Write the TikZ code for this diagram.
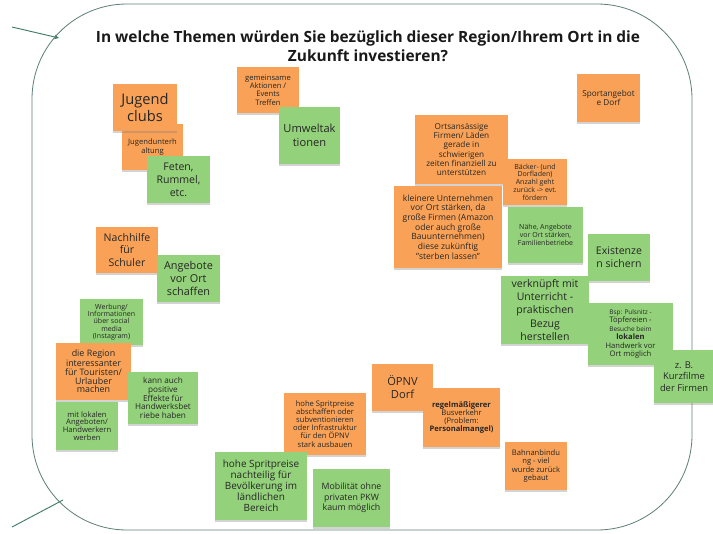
\documentclass[tikz,border=0pt]{standalone}
\usepackage{fontspec}
\setmainfont{Open Sans}
\usepackage{tikz}
\usetikzlibrary{shadows}

\definecolor{stickyorange}{HTML}{F9A257}
\definecolor{stickygreen}{HTML}{93D27A}
\definecolor{framegray}{HTML}{5F807A}
\definecolor{arrowteal}{HTML}{3F7C68}

\begin{document}
\begin{tikzpicture}[
    x=0.03cm, y=-0.03cm,
    note/.style={inner sep=1pt, align=center, text=black!85, drop shadow={shadow xshift=0pt, shadow yshift=-2pt, opacity=0.35}},
    orangenote/.style={note, fill=stickyorange},
    greennote/.style={note, fill=stickygreen},
    arrow/.style={->, >=stealth, line width=0.8pt, arrowteal},
]
\useasboundingbox (0,0) rectangle (713,533);

% Frame and title
\draw[framegray, line width=0.7pt, rounded corners=2.85cm] (32,4) rectangle (692,530);
\node[font=\bfseries\fontsize{13.2}{16.5}\selectfont, align=center, text=black!90] (title) at (368,46.5)
    {In welche Themen würden Sie bezüglich dieser Region/Ihrem Ort in die\\Zukunft investieren?};

% Outside connectors
\coordinate (arrowstart) at (12,27);
\coordinate (arrowend) at (59,38);
\coordinate (linestart) at (12,527);
\coordinate (lineend) at (63,500);
\draw[arrow] (arrowstart) -- (arrowend);
\draw[arrowteal, line width=0.8pt] (linestart) -- (lineend);

% Youth
\node[orangenote, minimum width=1.83cm, minimum height=1.38cm, font=\fontsize{6.5}{7}\selectfont] (unterhaltung) at (152.5,147) {Jugendunterh\\altung};
\node[orangenote, minimum width=1.92cm, minimum height=1.41cm, font=\fontsize{12.5}{14}\selectfont] (jugend) at (145,107.5) {Jugend\\clubs};
\node[greennote, minimum width=1.89cm, minimum height=1.41cm, font=\fontsize{9}{11}\selectfont] (feten) at (178.5,179.5) {Feten,\\Rummel,\\etc.};

% Events and environment
\node[orangenote, minimum width=1.86cm, minimum height=1.38cm, font=\fontsize{6.5}{7.2}\selectfont] (aktionen) at (268,90) {gemeinsame\\Aktionen /\\Events\\Treffen};
\node[greennote, minimum width=1.83cm, minimum height=1.71cm, font=\fontsize{9.5}{12}\selectfont] (umwelt) at (309.5,135.5) {Umweltak\\tionen};
\node[orangenote, minimum width=1.89cm, minimum height=1.44cm, font=\fontsize{7}{8}\selectfont] (sport) at (608.5,98) {Sportangebot\\e Dorf};

% Local businesses
\node[orangenote, minimum width=2.79cm, minimum height=2.07cm, font=\fontsize{7}{8}\selectfont] (ortsansaessig) at (461.5,149.5) {Ortsansässige\\Firmen/ Läden\\gerade in\\schwierigen\\zeiten finanziell zu\\unterstützen};
\node[orangenote, minimum width=1.92cm, minimum height=1.38cm, font=\fontsize{6}{6.6}\selectfont] (baecker) at (535,182) {Bäcker- (und\\Dorfladen)\\Anzahl geht\\zurück -> evt.\\fördern};
\node[orangenote, minimum width=3.24cm, minimum height=2.46cm, font=\fontsize{7.3}{8.2}\selectfont] (kleinere) at (448,227) {kleinere Unternehmen\\vor Ort stärken, da\\große Firmen (Amazon\\oder auch große\\Bauunternehmen)\\diese zukünftig\\"sterben lassen"};
\node[greennote, minimum width=2.25cm, minimum height=1.68cm, font=\fontsize{6}{6.8}\selectfont] (naehe) at (545.5,235) {Nähe, Angebote\\vor Ort stärken,\\Familienbetriebe};
\node[greennote, minimum width=1.86cm, minimum height=1.41cm, font=\fontsize{9}{11}\selectfont] (existenz) at (619,257.5) {Existenze\\n sichern};
\node[greennote, minimum width=2.64cm, minimum height=2.04cm, font=\fontsize{9}{11.3}\selectfont] (unterricht) at (545,310) {verknüpft mit\\Unterricht -\\praktischen\\Bezug\\herstellen};
\node[greennote, minimum width=2.55cm, minimum height=1.86cm, font=\fontsize{6.5}{7.2}\selectfont] (pulsnitz) at (630.5,334)
    {{\fontsize{5.5}{7}\selectfont Bsp: Pulsnitz -}\\Töpfereien -\\{\fontsize{5.5}{7}\selectfont Besuche beim}\\{\bfseries lokalen}\\Handwerk vor\\Ort möglich};
\node[greennote, minimum width=1.80cm, minimum height=1.59cm, font=\fontsize{8}{10}\selectfont] (kurzfilme) at (684,376.5) {z. B.\\Kurzfilme\\der Firmen};

% Education and tourism
\node[orangenote, minimum width=1.86cm, minimum height=1.38cm, font=\fontsize{9}{11}\selectfont] (nachhilfe) at (127,250) {Nachhilfe\\für\\Schuler};
\node[greennote, minimum width=1.89cm, minimum height=1.41cm, font=\fontsize{9.3}{11}\selectfont] (angebote) at (188.5,278.5) {Angebote\\vor Ort\\schaffen};
\node[greennote, minimum width=1.89cm, minimum height=1.38cm, font=\fontsize{6}{6.3}\selectfont] (werbung) at (111.5,322) {Werbung/\\Informationen\\über social\\media\\(Instagram)};
\node[orangenote, minimum width=2.25cm, minimum height=1.71cm, font=\fontsize{7.6}{7.4}\selectfont] (region) at (93.5,371.5) {die Region\\interessanter\\für Touristen/\\Urlauber\\machen};
\node[greennote, minimum width=2.10cm, minimum height=1.56cm, font=\fontsize{7}{7.4}\selectfont] (effekte) at (163,398) {kann auch\\positive\\Effekte für\\Handwerksbet\\riebe haben};
\node[greennote, minimum width=1.86cm, minimum height=1.44cm, font=\fontsize{6.5}{6.6}\selectfont] (lokal) at (87,426) {mit lokalen\\Angeboten/\\Handwerkern\\werben};

% Mobility
\node[orangenote, minimum width=1.83cm, minimum height=1.41cm, font=\fontsize{9.5}{11}\selectfont] (oepnv) at (402.5,387.5) {ÖPNV\\Dorf};
\node[orangenote, minimum width=2.31cm, minimum height=1.77cm, font=\fontsize{6.5}{6.8}\selectfont] (bus) at (461.5,417.5) {{\bfseries regelmäßigerer}\\Busverkehr\\(Problem:\\{\bfseries Personalmangel)}};
\node[orangenote, minimum width=2.46cm, minimum height=1.86cm, font=\fontsize{6.5}{6.9}\selectfont] (spritorange) at (325,424) {hohe Spritpreise\\abschaffen oder\\subventionieren\\oder Infrastruktur\\für den ÖPNV\\stark ausbauen};
\node[orangenote, minimum width=1.86cm, minimum height=1.44cm, font=\fontsize{6.5}{6.9}\selectfont] (bahn) at (536,466) {Bahnanbindu\\ng - viel\\wurde zurück\\gebaut};
\node[greennote, minimum width=2.76cm, minimum height=2.04cm, font=\fontsize{8.5}{9.4}\selectfont] (spritgreen) at (261,486) {hohe Spritpreise\\nachteilig für\\Bevölkerung im\\ländlichen\\Bereich};
\node[greennote, minimum width=2.31cm, minimum height=1.74cm, font=\fontsize{7.5}{9}\selectfont] (mobilitaet) at (351.5,498) {Mobilität ohne\\privaten PKW\\kaum möglich};

\end{tikzpicture}
\end{document}
